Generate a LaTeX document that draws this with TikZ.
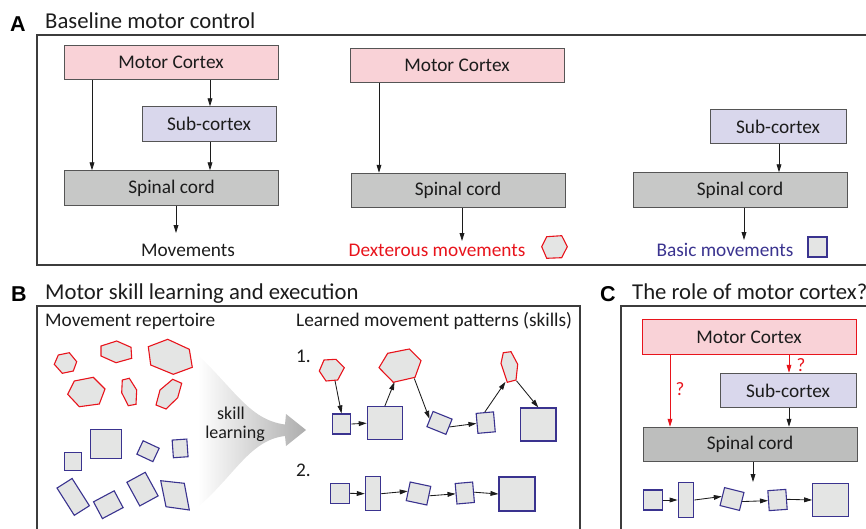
\documentclass[tikz,border=0pt]{standalone}
\usepackage{fontspec}
\setmainfont{Carlito}
\newfontfamily\lblfont{Liberation Sans}
\usetikzlibrary{arrows.meta,shapes.geometric}
\definecolor{mcpink}{HTML}{F9D2D7}
\definecolor{sublav}{HTML}{D9D7EC}
\definecolor{spgray}{HTML}{C7C8C7}
\definecolor{spgrayc}{HTML}{BDBEBD}
\definecolor{shfill}{HTML}{E4E5E4}
\definecolor{hexred}{HTML}{E8141C}
\definecolor{sqblue}{HTML}{3A338F}
\definecolor{boxline}{HTML}{555555}
\definecolor{frameline}{HTML}{3C3C3C}
\definecolor{txt}{HTML}{1C1C1C}
\begin{document}
\begin{tikzpicture}[x=1pt,y=-1pt,
  box/.style={draw=boxline, line width=0.9pt, minimum height=34.5pt, inner sep=0pt,
    font=\fontsize{19.3}{22}\selectfont, text=txt},
  mcbox/.style={box, fill=mcpink, minimum width=214pt},
  subbox/.style={box, fill=sublav, minimum width=134pt},
  spbox/.style={box, fill=spgray, minimum width=214pt},
  arr/.style={-{Triangle[length=8pt,width=4.8pt]}, line width=0.85pt, draw=txt},
  hexs/.style={draw=hexred, fill=shfill, line width=1.1pt, line join=miter},
  sqs/.style={draw=sqblue, fill=shfill, line width=1.1pt},
  sqn/.style={sqs, rectangle, inner sep=0pt},
  lbl/.style={inner sep=0pt, font=\fontsize{19.3}{22}\selectfont, text=txt},
  ptitle/.style={inner sep=0pt, font=\fontsize{22.7}{26}\selectfont, text=txt},
  plabel/.style={inner sep=0pt, font=\lblfont\bfseries\fontsize{21.5}{24}\selectfont, text=black},
  frame/.style={draw=frameline, line width=1.4pt},
  qm/.style={inner sep=0pt, font=\fontsize{19}{20}\selectfont, text=hexred}
]
\useasboundingbox (0,0) rectangle (866,529);

% ---------------- Panel A ----------------
\draw[frame] (37,35) rectangle (880,265);
\node[plabel, anchor=base west] (la) at (10,31.5) {A};
\node[ptitle, anchor=base west] (ta) at (45,28.5) {Baseline motor control};

\node[mcbox] (mc1) at (171,62.5) {Motor Cortex};
\node[subbox] (sub1) at (209,124) {Sub-cortex};
\node[spbox] (sc1) at (171.5,188) {Spinal cord};
\coordinate (xa) at (92,0);
\coordinate (xb) at (210,0);
\draw[arr] (mc1.south -| xa) -- (sc1.north -| xa);
\draw[arr] (mc1.south -| xb) -- (sub1.north -| xb);
\draw[arr] (sub1.south -| xb) -- (sc1.north -| xb);
\coordinate (mv1) at (176,233);
\draw[arr] (sc1.south -| mv1) -- (mv1);
\node[lbl, anchor=base] (mvt1) at (188,256) {Movements};

\node[mcbox] (mc2) at (457,65.5) {Motor Cortex};
\node[spbox] (sc2) at (458,190.5) {Spinal cord};
\coordinate (xd) at (379,0);
\draw[arr] (mc2.south -| xd) -- (sc2.north -| xd);
\coordinate (mv2) at (462,241);
\draw[arr] (sc2.south -| mv2) -- (mv2);
\node[lbl, text=hexred, anchor=base] (mvt2) at (437,256) {Dexterous movements};
\draw[hexs] (541.7,246.7) -- (546.7,236.7) -- (561.7,235.7) -- (567.3,246.7) -- (561.7,257.7) -- (546.7,258.3) -- cycle;

\node[subbox, minimum width=136pt] (sub3) at (778,126.5) {Sub-cortex};
\node[spbox] (sc3) at (740,190) {Spinal cord};
\coordinate (xe) at (779,0);
\draw[arr] (sub3.south -| xe) -- (sc3.north -| xe);
\coordinate (mv3) at (744,240);
\draw[arr] (sc3.south -| mv3) -- (mv3);
\node[lbl, text=sqblue, anchor=base] (mvt3) at (725,256) {Basic movements};
\draw[sqs] (808,237) rectangle (827,257);

% ---------------- Panel B ----------------
\node[plabel, anchor=base west] (lb) at (11,301.5) {B};
\node[ptitle, anchor=base west] (tb) at (45,299) {Motor skill learning and execution};
\draw[frame] (37,540) -- (37,306) -- (580,306) -- (580,540);
\node[lbl, anchor=base west] (rep) at (45,326) {Movement repertoire};
\node[lbl, anchor=base west] (lmp) at (296,326) {Learned movement patterns (skills)};
\node[lbl, anchor=base west] (n1) at (296,362.5) {1.};
\node[lbl, anchor=base west] (n2) at (296,476) {2.};

% gradient arrow
\shade[left color=white, right color=black!32]
  (198,355) .. controls (235,390) and (250,420) .. (285,424.5)
  -- (286,414) -- (306,430) -- (286,446) -- (285,436)
  .. controls (250,440) and (235,475) .. (198,507) -- cycle;
\node[lbl, anchor=base, font=\fontsize{18}{16}\selectfont] (sk1) at (231,419.5) {skill};
\node[lbl, anchor=base, font=\fontsize{18}{16}\selectfont] (sk2) at (235,438) {learning};

% repertoire hexagons
\draw[hexs] (54.3,364.3) -- (58.3,355) -- (69.3,352.7) -- (76.7,361.7) -- (73.3,371) -- (62.3,373.3) -- cycle;
\draw[hexs] (101,346) -- (116.7,341) -- (131,347.3) -- (131.7,358.3) -- (116,362.7) -- (101,356) -- cycle;
\draw[hexs] (148.3,346.7) -- (167.7,339.3) -- (189.3,349.3) -- (192.3,367.3) -- (173.3,374.3) -- (150.7,365) -- cycle;
\draw[hexs] (74.3,381) -- (93.3,377.3) -- (105,389) -- (99.3,404) -- (79.3,406.7) -- (67.7,394.3) -- cycle;
\draw[hexs] (122.3,380) -- (129.3,378.3) -- (136.7,390) -- (136,404.3) -- (128.3,405.7) -- (121.7,392.7) -- cycle;
\draw[hexs] (160,390) -- (172.7,379.3) -- (181.7,383.3) -- (177.7,397.7) -- (166,409) -- (156,405) -- cycle;

% repertoire squares
\node[sqn, minimum width=16.7pt, minimum height=17.7pt] (p1) at (72.7,461.2) {};
\node[sqn, minimum width=30.6pt, minimum height=29.4pt] (p2) at (106,444) {};
\node[sqn, minimum width=17.7pt, minimum height=14.8pt, rotate=-25] (p3) at (148,451.2) {};
\node[sqn, minimum width=14.7pt, minimum height=17.7pt, rotate=4] (p4) at (180.1,448.4) {};
\node[sqn, minimum width=32.3pt, minimum height=17.9pt, rotate=-57.6] (p5) at (73.2,496.9) {};
\node[sqn, minimum width=23.4pt, minimum height=19pt, rotate=28] (p6) at (108.3,504.7) {};
\node[sqn, minimum width=20.9pt, minimum height=26.9pt, rotate=28.6] (p7) at (142.5,489.1) {};
\draw[sqs] (160.7,480.7) -- (184.3,483.3) -- (189.3,510) -- (166,506.7) -- cycle;

% skill 1
\draw[hexs] (319.3,371) -- (324,360) -- (336,359.3) -- (344.3,367.7) -- (337.7,380) -- (326,381) -- cycle;
\coordinate (r1b) at (335,380.8);
\node[sqn, minimum width=18.5pt, minimum height=20pt] (s1) at (341.5,424) {};
\node[sqn, minimum width=35pt, minimum height=33pt] (s2) at (384.8,423.2) {};
\draw[hexs] (379,367.7) -- (387.7,353.3) -- (409.3,349) -- (421,360.7) -- (415,377.3) -- (393.3,382.3) -- cycle;
\coordinate (r2b) at (394.5,382);
\coordinate (r2c) at (414.3,378.5);
\node[sqn, minimum width=20.5pt, minimum height=16.4pt, rotate=-22] (t1) at (439.5,422.9) {};
\node[sqn, minimum width=17.4pt, minimum height=20pt, rotate=5] (q2) at (485.7,422.6) {};
\draw[hexs] (501,363.3) -- (503.3,352.7) -- (511,351.7) -- (517.7,364.3) -- (516,380) -- (507.3,382.3) -- cycle;
\coordinate (r3b) at (505.5,381.8);
\coordinate (r3c) at (516.5,380.8);
\node[sqn, minimum width=35.3pt, minimum height=33pt] (s3) at (538.3,424.5) {};
\draw[arr] (r1b) -- (s1.north);
\draw[arr] (s1.east) -- (s2.west);
\draw[arr] (s2.north) -- (r2b);
\draw[arr] (r2c) -- (t1.west);
\draw[arr] (t1.east) -- (q2.west);
\draw[arr] (q2.north) -- (r3b);
\draw[arr] (r3c) -- (s3.north);

% skill 2
\node[sqn, minimum width=19.3pt, minimum height=20pt] (u1) at (339.7,493.3) {};
\node[sqn, minimum width=15.4pt, minimum height=34pt] (u2) at (373,493.7) {};
\node[sqn, minimum width=21pt, minimum height=19pt, rotate=-12] (u3) at (418.5,493.5) {};
\node[sqn, minimum width=17.5pt, minimum height=20.5pt, rotate=5] (u4) at (464.8,493) {};
\node[sqn, minimum width=36pt, minimum height=34pt] (u5) at (517,494) {};
\draw[arr] (u1.east) -- (u2.west);
\draw[arr] (u2.east) -- (u3.west);
\draw[arr] (u3.east) -- (u4.west);
\draw[arr] (u4.east) -- (u5.west);

% ---------------- Panel C ----------------
\node[plabel, anchor=base west] (lc) at (600,301.5) {C};
\node[ptitle, anchor=base west] (tc) at (632,299) {The role of motor cortex?};
\draw[frame] (621,540) -- (621,306) -- (880,306);

\node[mcbox, draw=hexred] (mc4) at (749,337) {Motor Cortex};
\node[subbox, minimum width=136pt] (sub4) at (788,390.5) {Sub-cortex};
\node[spbox, fill=spgrayc] (sc4) at (750,444.5) {Spinal cord};
\coordinate (xf) at (670,0);
\coordinate (xg) at (789,0);
\draw[arr, draw=hexred] (mc4.south -| xf) -- (sc4.north -| xf);
\draw[arr, draw=hexred] (mc4.south -| xg) -- (sub4.north -| xg);
\draw[arr] (sub4.south -| xg) -- (sc4.north -| xg);
\node[qm] (q1) at (680,389) {?};
\node[qm] (q2m) at (801,365) {?};
\coordinate (xh) at (753,482);
\draw[arr] (sc4.south -| xh) -- (xh);

\node[sqn, minimum width=19pt, minimum height=20pt] (v1) at (652.8,500) {};
\node[sqn, minimum width=15.7pt, minimum height=34.6pt] (v2) at (686,500) {};
\node[sqn, minimum width=20pt, minimum height=18.5pt, rotate=-14] (v3) at (732,499) {};
\node[sqn, minimum width=18pt, minimum height=20pt, rotate=4] (v4) at (777.5,500) {};
\node[sqn, minimum width=35.6pt, minimum height=33.4pt] (v5) at (830.5,500) {};
\draw[arr] (v1.east) -- (v2.west);
\draw[arr] (v2.east) -- (v3.west);
\draw[arr] (v3.east) -- (v4.west);
\draw[arr] (v4.east) -- (v5.west);
\end{tikzpicture}
\end{document}
